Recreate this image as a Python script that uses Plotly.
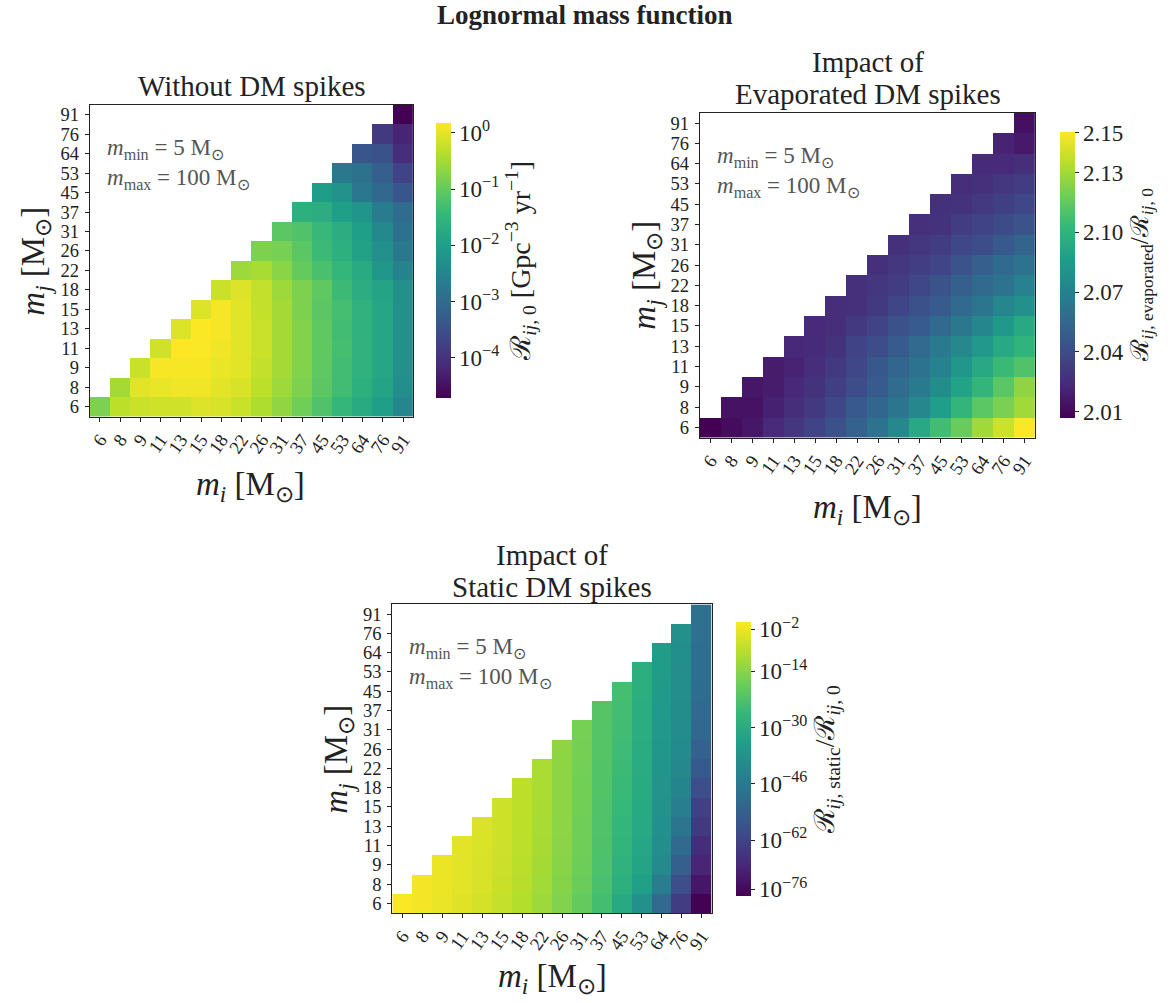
import plotly.graph_objects as go

# ---------------- data ----------------
masses = ["6", "8", "9", "11", "13", "15", "18", "22", "26", "31", "37", "45", "53", "64", "76", "91"]

# log10 of R_ij,0 [Gpc^-3 yr^-1]; row j (m_j), values for i = j..15
log_rate_no_spike_rows = [
    [-0.80, -0.31, -0.21, -0.16, -0.16, -0.06, -0.11, -0.21, -0.41, -0.65, -0.90, -1.19, -1.48, -1.73, -1.97, -2.46],
    [-0.50, -0.02, 0.03, 0.08, 0.08, -0.02, -0.11, -0.31, -0.55, -0.80, -1.09, -1.34, -1.63, -1.87, -2.31],
    [-0.21, 0.13, 0.13, 0.13, 0.03, -0.02, -0.26, -0.50, -0.75, -1.04, -1.34, -1.58, -1.82, -2.27],
    [-0.16, 0.18, 0.16, 0.08, -0.02, -0.21, -0.50, -0.75, -1.04, -1.29, -1.58, -1.82, -2.27],
    [-0.06, 0.17, 0.13, -0.02, -0.21, -0.50, -0.75, -1.04, -1.34, -1.58, -1.82, -2.27],
    [-0.06, 0.13, -0.02, -0.26, -0.50, -0.80, -1.09, -1.29, -1.58, -1.82, -2.27],
    [-0.21, -0.06, -0.26, -0.55, -0.80, -1.04, -1.38, -1.68, -1.87, -2.27],
    [-0.55, -0.46, -0.70, -0.99, -1.24, -1.48, -1.73, -2.12, -2.51],
    [-0.80, -0.85, -1.09, -1.38, -1.63, -1.92, -2.27, -2.75],
    [-1.09, -1.19, -1.43, -1.68, -1.97, -2.41, -2.90],
    [-1.63, -1.68, -1.97, -2.17, -2.66, -3.00],
    [-2.02, -2.22, -2.75, -3.05, -3.39],
    [-2.75, -2.90, -3.24, -3.73],
    [-3.39, -3.49, -4.07],
    [-3.88, -4.22],
    [-4.71],
]

# R_ij,evaporated / R_ij,0 ; row j, values for i = j..15
evap_ratio_rows = [
    [2.007, 2.011, 2.016, 2.024, 2.030, 2.036, 2.043, 2.051, 2.061, 2.074, 2.093, 2.106, 2.117, 2.130, 2.140, 2.150],
    [2.014, 2.014, 2.020, 2.026, 2.031, 2.038, 2.047, 2.054, 2.063, 2.074, 2.087, 2.101, 2.113, 2.121, 2.130],
    [2.016, 2.018, 2.023, 2.028, 2.034, 2.041, 2.048, 2.057, 2.066, 2.077, 2.089, 2.101, 2.113, 2.126],
    [2.018, 2.021, 2.026, 2.031, 2.038, 2.046, 2.054, 2.061, 2.071, 2.083, 2.093, 2.104, 2.110],
    [2.023, 2.024, 2.028, 2.036, 2.041, 2.048, 2.056, 2.066, 2.074, 2.084, 2.093, 2.100],
    [2.024, 2.026, 2.031, 2.036, 2.043, 2.048, 2.056, 2.064, 2.073, 2.084, 2.093],
    [2.026, 2.027, 2.031, 2.037, 2.043, 2.048, 2.056, 2.063, 2.073, 2.079],
    [2.027, 2.030, 2.033, 2.038, 2.044, 2.050, 2.056, 2.061, 2.070],
    [2.027, 2.030, 2.034, 2.037, 2.044, 2.050, 2.056, 2.061],
    [2.027, 2.030, 2.033, 2.038, 2.041, 2.047, 2.053],
    [2.027, 2.028, 2.033, 2.036, 2.040, 2.044],
    [2.027, 2.028, 2.031, 2.034, 2.038],
    [2.026, 2.027, 2.030, 2.033],
    [2.024, 2.024, 2.026],
    [2.021, 2.017],
    [2.013],
]

# log10 of R_ij,static / R_ij,0 ; column i (m_i), values for j = 0..i
log_static_ratio_cols = [
    [-0.3],
    [-1.3, -1.1],
    [-2.3, -2.1, -2.0],
    [-3.6, -3.3, -3.2, -3.1],
    [-5.0, -4.6, -4.4, -4.3, -4.2],
    [-6.8, -6.3, -6.0, -5.9, -5.8, -5.7],
    [-8.9, -8.4, -8.1, -7.9, -7.8, -7.7, -7.6],
    [-11.6, -11.0, -10.6, -10.4, -10.2, -10.1, -10.0, -9.9],
    [-15.0, -14.5, -14.1, -13.9, -13.7, -13.6, -13.5, -13.4, -13.3],
    [-18.8, -18.1, -17.7, -17.4, -17.2, -17.0, -16.8, -16.7, -16.6, -16.5],
    [-23.6, -22.8, -22.4, -22.1, -21.9, -21.7, -21.5, -21.4, -21.2, -21.1, -21.0],
    [-31.0, -28.9, -27.6, -26.9, -26.3, -25.8, -25.4, -25.0, -24.6, -24.2, -23.8, -23.4],
    [-39.0, -34.0, -32.5, -31.8, -31.3, -30.9, -30.5, -30.2, -29.9, -29.6, -29.4, -29.2, -29.0],
    [-51.5, -45.0, -41.0, -39.5, -39.0, -38.5, -37.8, -37.3, -36.8, -36.4, -36.0, -35.7, -35.4, -35.0],
    [-64.0, -59.0, -54.6, -51.5, -47.5, -45.0, -42.5, -41.5, -40.8, -40.3, -40.0, -39.7, -39.5, -39.3, -39.0],
    [-77.8, -73.0, -70.0, -68.0, -65.0, -63.0, -59.0, -56.0, -54.0, -52.0, -51.5, -50.5, -50.0, -50.0, -49.5, -49.0],
]

cb1_ticks = [-4, -3, -2, -1, 0]
cb2_ticks = [2.01, 2.04, 2.07, 2.10, 2.13, 2.15]
cb3_ticks = [-76, -62, -46, -30, -14, -2]

# ---------------- build ----------------
n = len(masses)


def tri_from_rows(rows):
    z = [[None] * n for _ in range(n)]
    for j, row in enumerate(rows):
        for k, v in enumerate(row):
            z[j][j + k] = v
    return z


def tri_from_cols(cols):
    z = [[None] * n for _ in range(n)]
    for i, col in enumerate(cols):
        for j, v in enumerate(col):
            z[j][i] = v
    return z


def pow_label(e):
    s = str(e).replace("-", "\u2212")
    return f"10<sup>{s}</sup>"


W, H = 1176, 1003
FONT = "Liberation Serif"
TXT = "#222222"


def px(x):
    return x / W


def py(y):
    return 1 - y / H


idx = list(range(n))
fig = go.Figure()

cb_common = dict(thickness=15, xanchor="left", yanchor="middle", xpad=0, ypad=0,
                 outlinewidth=0, ticks="outside", ticklen=4, tickcolor="#222",
                 tickfont=dict(family=FONT, size=23, color=TXT), lenmode="fraction")

fig.add_trace(go.Heatmap(
    z=tri_from_rows(log_rate_no_spike_rows), x=idx, y=idx, colorscale="Viridis",
    zmin=-4.71, zmax=0.18, xaxis="x", yaxis="y", hoverinfo="skip", xgap=0, ygap=0,
    colorbar=dict(x=px(436), y=py(260.5), len=275 / H, tickvals=cb1_ticks,
                  ticktext=[pow_label(t) for t in cb1_ticks],
                  title=dict(text="\u211b<sub><i>ij</i>, 0</sub> [Gpc<sup>\u22123</sup> yr<sup>\u22121</sup>]",
                             side="right", font=dict(family=FONT, size=28, color=TXT)),
                  **cb_common)))

fig.add_trace(go.Heatmap(
    z=tri_from_rows(evap_ratio_rows), x=idx, y=idx, colorscale="Viridis",
    zmin=2.007, zmax=2.1505, xaxis="x2", yaxis="y2", hoverinfo="skip",
    colorbar=dict(x=px(1061), y=py(275), len=286 / H, tickvals=cb2_ticks,
                  ticktext=[f"{t:.2f}" for t in cb2_ticks],
                  title=dict(text="\u211b<sub><i>ij</i>, evaporated</sub>/\u211b<sub><i>ij</i>, 0</sub>",
                             side="right", font=dict(family=FONT, size=25, color=TXT)),
                  **cb_common)))

fig.add_trace(go.Heatmap(
    z=tri_from_cols(log_static_ratio_cols), x=idx, y=idx, colorscale="Viridis",
    zmin=-78, zmax=0, xaxis="x3", yaxis="y3", hoverinfo="skip",
    colorbar=dict(x=px(736), y=py(760), len=274 / H, tickvals=cb3_ticks,
                  ticktext=[pow_label(t) for t in cb3_ticks],
                  title=dict(text="\u211b<sub><i>ij</i>, static</sub>/\u211b<sub><i>ij</i>, 0</sub>",
                             side="right", font=dict(family=FONT, size=28, color=TXT)),
                  **cb_common)))

panels = {
    "": dict(x=(89, 413), y=(105, 417)),
    "2": dict(x=(700, 1036), y=(113, 438)),
    "3": dict(x=(392, 712), y=(605, 914)),
}

layout = dict(width=W, height=H, margin=dict(l=0, r=0, t=0, b=0),
              paper_bgcolor="white", plot_bgcolor="white", showlegend=False,
              font=dict(family=FONT, color=TXT))

axis_common = dict(showline=True, mirror=True, linecolor="#222", linewidth=1.2,
                   ticks="outside", ticklen=4, tickcolor="#222", showgrid=False,
                   zeroline=False, range=[-0.5, n - 0.5], tickvals=idx, ticktext=masses,
                   tickfont=dict(family=FONT, size=18.5, color=TXT), fixedrange=True)

for k, p in panels.items():
    layout["xaxis" + k] = dict(domain=[px(p["x"][0]), px(p["x"][1])], anchor="y" + k,
                               tickangle=-55, **axis_common)
    layout["yaxis" + k] = dict(domain=[py(p["y"][1]), py(p["y"][0])], anchor="x" + k,
                               ticklabelstandoff=2, **axis_common)

fig.update_layout(**layout)

ann = []


def add(text, x, y, size, **kw):
    d = dict(text=text, x=px(x), y=py(y), xref="paper", yref="paper", showarrow=False,
             font=dict(family=FONT, size=size, color=kw.pop("color", TXT)))
    d.update(kw)
    ann.append(d)


add("<b>Lognormal mass function</b>", 585, 15, 27, xanchor="center", yanchor="middle")
add("Without DM spikes", 251, 86, 29, xanchor="center", yanchor="middle")
add("Impact of", 868, 62, 29, xanchor="center", yanchor="middle")
add("Evaporated DM spikes", 868, 94, 29, xanchor="center", yanchor="middle")
add("Impact of", 552, 556, 29, xanchor="center", yanchor="middle")
add("Static DM spikes", 552, 588, 29, xanchor="center", yanchor="middle")

mtext = "<i>m</i><sub>min</sub> = 5 M<sub>\u2299</sub><br><i>m</i><sub>max</sub> = 100 M<sub>\u2299</sub>"
for (x0, y0) in [(104, 164), (715, 172), (407, 664)]:
    add(mtext, x0, y0, 23, xanchor="left", yanchor="middle", align="left", color="#555555")

ylab = "<i>m<sub>j</sub></i> [M<sub>\u2299</sub>]"
xlab = "<i>m<sub>i</sub></i> [M<sub>\u2299</sub>]"
add(ylab, 35, 261, 33, textangle=-90, xanchor="center", yanchor="middle")
add(ylab, 647, 275, 33, textangle=-90, xanchor="center", yanchor="middle")
add(ylab, 338, 760, 33, textangle=-90, xanchor="center", yanchor="middle")
add(xlab, 250, 487, 33, xanchor="center", yanchor="middle")
add(xlab, 868, 510, 33, xanchor="center", yanchor="middle")
add(xlab, 552, 979, 33, xanchor="center", yanchor="middle")

fig.update_layout(annotations=ann)

fig.write_html("out.html", post_script="document.body.style.margin='0';",
               config={"displayModeBar": False})
